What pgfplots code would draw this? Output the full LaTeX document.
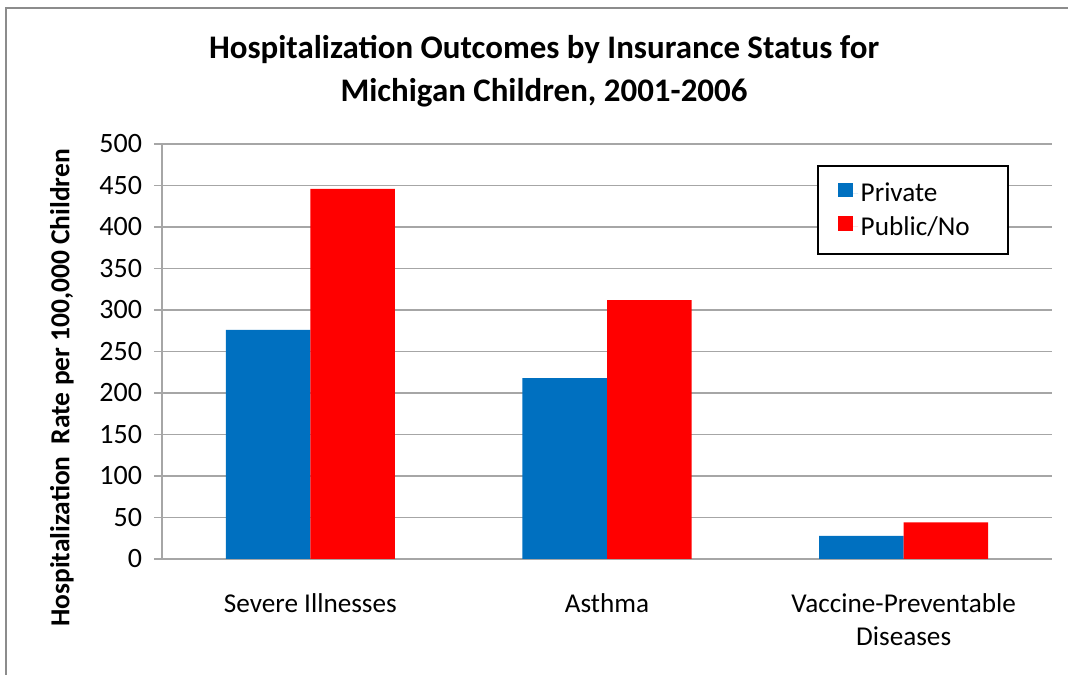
\documentclass[border=0pt]{standalone}
\usepackage{pgfplots}
\pgfplotsset{compat=1.18}
\usepackage{fontspec}
\setmainfont{Carlito}
\definecolor{barblue}{HTML}{0070C0}
\definecolor{barred}{HTML}{FF0000}
\definecolor{gridgray}{HTML}{A6A6A6}
\definecolor{framegray}{HTML}{8C8C8C}

\begin{document}
\begin{tikzpicture}
\useasboundingbox (0,0) rectangle (801pt,506.25pt);
\draw[color=framegray, line width=1.5pt] (4.5pt,-2pt) -- (4.5pt,500.25pt) -- (803pt,500.25pt);
\node[font=\fontsize{24.7}{32}\selectfont\bfseries, align=center] at (408pt,453pt) {Hospitalization Outcomes by Insurance Status for\\Michigan Children, 2001-2006};
\node[font=\fontsize{20.6}{24}\selectfont\bfseries, rotate=90] at (46.5pt,215.25pt) {Hospitalization\ \ Rate per 100,000 Children};
\begin{axis}[
  at={(121.5pt,87pt)}, anchor=south west,
  scale only axis, width=667.5pt, height=311.25pt,
  xmin=-0.5, xmax=2.5, ymin=0, ymax=500,
  enlarge x limits=false, enlarge y limits=false,
  ytick={0,50,...,500},
  xtick={0,1,2},
  xticklabels={Severe Illnesses, Asthma, {Vaccine-Preventable\\Diseases}},
  xticklabel style={align=center, font=\fontsize{20.4}{25}\selectfont, yshift=-10.5pt},
  yticklabel style={font=\fontsize{21}{25}\selectfont, xshift=-5.5pt},
  /pgf/number format/assume math mode=true,
  axis x line*=bottom, axis y line*=left,
  axis line style={gridgray, line width=1.5pt, -},
  ymajorgrids, grid style={gridgray, line width=1.2pt},
  tick align=center, major tick length=12pt,
  ytick style={gridgray, line width=1.2pt},
  xtick style={draw=none},
  ybar=0pt, bar width=0.285,
  legend style={at={(0.736,0.949)}, anchor=north west, draw=black, line width=1.5pt,
     font=\fontsize{20.4}{25}\selectfont, inner xsep=15pt, inner ysep=10.5pt,
     row sep=5.5pt},
  legend cell align=left,
  legend image code/.code={\fill[#1] (0pt,-3pt) rectangle (11pt,8pt); \path (0pt,0pt) -- (15pt,0pt);},
]
\addplot[fill=barblue, draw=none] coordinates {(0,276) (1,218) (2,28)};
\addplot[fill=barred, draw=none] coordinates {(0,446) (1,312) (2,44)};
\legend{Private, Public/No\rule{12pt}{0pt}}
\end{axis}
\end{tikzpicture}
\end{document}
